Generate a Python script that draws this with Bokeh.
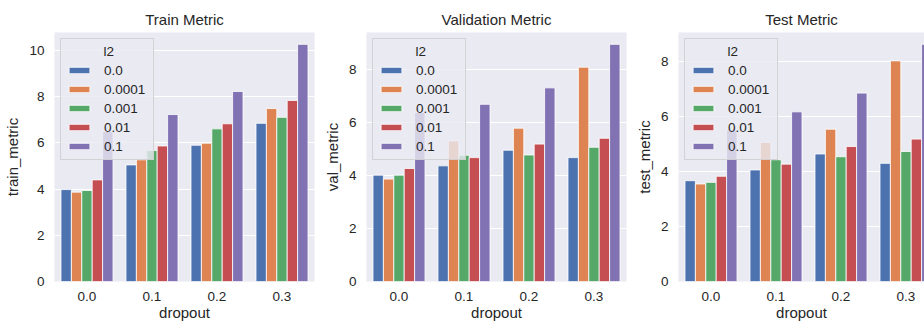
from bokeh.plotting import figure
from bokeh.layouts import row
from bokeh.models import Range1d, FixedTicker, ColumnDataSource, Legend, LegendItem
from bokeh.transform import dodge
from bokeh.embed import file_html
from bokeh.resources import INLINE

# ---- data ----
dropout = ["0.0", "0.1", "0.2", "0.3"]
l2 = ["0.0", "0.0001", "0.001", "0.01", "0.1"]

train_l2_0 = [3.98, 5.05, 5.90, 6.85]
train_l2_00001 = [3.87, 5.27, 5.99, 7.49]
train_l2_0001 = [3.94, 5.67, 6.61, 7.11]
train_l2_001 = [4.40, 5.87, 6.83, 7.84]
train_l2_01 = [6.50, 7.23, 8.23, 10.27]

val_l2_0 = [4.01, 4.36, 4.95, 4.67]
val_l2_00001 = [3.86, 5.30, 5.78, 8.08]
val_l2_0001 = [4.01, 4.76, 4.77, 5.06]
val_l2_001 = [4.26, 4.67, 5.18, 5.40]
val_l2_01 = [6.37, 6.68, 7.30, 8.94]

test_l2_0 = [3.66, 4.05, 4.63, 4.29]
test_l2_00001 = [3.54, 5.05, 5.53, 8.01]
test_l2_0001 = [3.60, 4.42, 4.53, 4.72]
test_l2_001 = [3.82, 4.26, 4.90, 5.17]
test_l2_01 = [5.50, 6.16, 6.84, 8.61]

y_ticks_train = [0, 2, 4, 6, 8, 10]
y_ticks_other = [0, 2, 4, 6, 8]

legend_title = "l2"

# ---- style ----
colors = ["#4C72B0", "#DD8452", "#55A868", "#C44E52", "#8172B3"]
FONT = "Liberation Sans"
TXT = "#262626"
BG = "#EAEAF2"


def make_panel(title, ylabel, series, yticks, width, left_border, x_end, right_border):
    ymax = max(max(s) for s in series) * 1.05
    p = figure(width=width, height=326,
               x_range=Range1d(-0.5, x_end), y_range=Range1d(0, ymax),
               output_backend="svg", toolbar_location=None,
               min_border_left=left_border, min_border_right=right_border,
               min_border_top=32, min_border_bottom=45)
    p.title.text = title
    p.title.text_font = FONT
    p.title.text_font_size = "15px"
    p.title.text_font_style = "normal"
    p.title.text_color = TXT
    p.title.align = "center"
    p.title.standoff = 10

    p.background_fill_color = BG
    p.border_fill_color = "white"
    p.outline_line_color = None
    p.xgrid.grid_line_color = None
    p.ygrid.grid_line_color = "white"
    p.ygrid.grid_line_width = 1.2
    p.ygrid.ticker = FixedTicker(ticks=yticks)

    for ax in (p.xaxis[0], p.yaxis[0]):
        ax.axis_line_color = None
        ax.major_tick_line_color = None
        ax.minor_tick_line_color = None
        ax.major_tick_out = 0
        ax.major_tick_in = 0
        ax.minor_tick_out = 0
        ax.minor_tick_in = 0
        ax.major_label_text_font = FONT
        ax.major_label_text_font_size = "13.5px"
        ax.major_label_text_color = TXT
        ax.axis_label_text_font = FONT
        ax.axis_label_text_font_size = "15px"
        ax.axis_label_text_font_style = "normal"
        ax.axis_label_text_color = TXT

    xs = list(range(len(dropout)))
    p.xaxis.ticker = FixedTicker(ticks=xs)
    p.xaxis.major_label_overrides = {i: d for i, d in zip(xs, dropout)}
    p.xaxis.axis_label = "dropout"
    p.xaxis.major_label_standoff = 10
    p.xaxis.axis_label_standoff = 0

    p.yaxis.ticker = FixedTicker(ticks=yticks)
    p.yaxis.axis_label = ylabel
    p.yaxis.major_label_standoff = 10
    p.yaxis.axis_label_standoff = 5

    items = []
    n = len(l2)
    for i, (lab, vals) in enumerate(zip(l2, series)):
        off = (i - (n - 1) / 2) * 0.16
        src = ColumnDataSource(dict(x=xs, top=vals))
        r = p.vbar(x=dodge("x", off), top="top", width=0.16, source=src,
                   fill_color=colors[i], line_color="white", line_width=0.8)
        items.append(LegendItem(label=lab, renderers=[r]))

    legend = Legend(items=items, location="top_left",
                    title="\u00a0" * 10 + legend_title,
                    margin=6, padding=5, spacing=3,
                    glyph_width=26, glyph_height=8, label_height=16, label_width=44,
                    label_standoff=12,
                    label_text_font=FONT, label_text_font_size="13.5px",
                    label_text_color=TXT,
                    title_text_font=FONT, title_text_font_size="13.5px",
                    title_text_font_style="normal", title_text_color=TXT,
                    title_standoff=3,
                    background_fill_color=BG, background_fill_alpha=0.8,
                    border_line_color="#CCCCCC", border_line_alpha=0.8,
                    border_line_width=1)
    p.add_layout(legend)
    return p


p1 = make_panel("Train Metric", "train_metric",
                [train_l2_0, train_l2_00001, train_l2_0001, train_l2_001, train_l2_01],
                y_ticks_train, 320, 54, 3.5, 6)
p2 = make_panel("Validation Metric", "val_metric",
                [val_l2_0, val_l2_00001, val_l2_0001, val_l2_001, val_l2_01],
                y_ticks_other, 312, 46, 3.5, 6)
p3 = make_panel("Test Metric", "test_metric",
                [test_l2_0, test_l2_00001, test_l2_0001, test_l2_001, test_l2_01],
                y_ticks_other, 292, 46, -0.5 + 246 / 65, 0)

layout = row(p1, p2, p3, spacing=0)

open("out.html", "w").write(file_html(layout, INLINE))
